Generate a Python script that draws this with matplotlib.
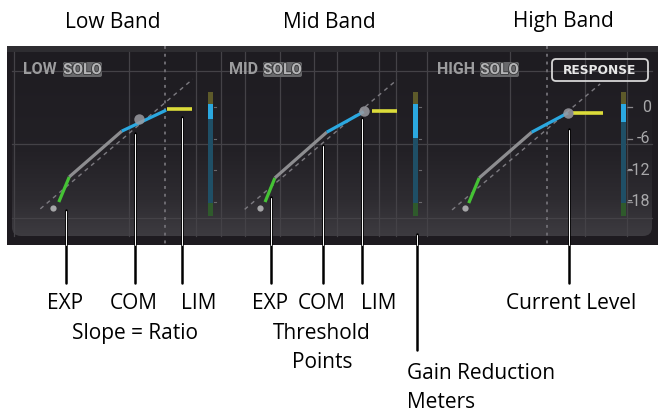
"""
Multiband compressor panel: transfer curves and gain reduction meters
"""
import numpy as np
import matplotlib.pyplot as plt
from matplotlib.patches import Rectangle, FancyBboxPatch
import matplotlib.patheffects as pe

plt.rcParams['font.family'] = ['Open Sans', 'DejaVu Sans']

# transfer curves per band, input dB -> output dB
bands = ["LOW", "MID", "HIGH"]
band_titles = ["Low Band", "Mid Band", "High Band"]
start_in = [-17.3, -17.0, -17.5]
start_out = [-19.2, -19.2, -19.2]
exp_in = [[-16.4, -14.7], [-16.2, -14.6], [-16.9, -15.2]]
exp_out = [[-18.1, -13.3], [-18.1, -13.5], [-18.3, -13.5]]
ratio_in = [[-14.7, -6.2], [-14.6, -6.2], [-15.2, -6.7]]
ratio_out = [[-13.3, -4.6], [-13.5, -4.8], [-13.5, -4.8]]
comp_in = [[-6.2, 1.0], [-6.2, -0.2], [-6.7, -0.8]]
comp_out = [[-4.6, -0.6], [-4.8, -0.9], [-4.8, -1.1]]
lim_in = [[1.1, 5.2], [1.1, 5.2], [0.0, 4.9]]
lim_out = [-0.4, -0.8, -1.1]
level_in = [-3.4, -0.2, -0.8]
level_out = [-2.3, -0.7, -1.1]
unity_range = [[-19.4, 5.3], [-19.5, 5.2], [-19.6, 4.4]]
gain_reduction = [2.3, 5.9, 2.9]
meter_ticks = [0, -6, -12, -18]

# layout in pixels
W, H = 658, 411
SX, SY = 6.17, 5.25          # px per dB
Y0 = 107                     # pixel row of 0 dB
band_x0 = [160, 365, 573]    # pixel column of 0 dB input
PANEL_TOP, PANEL_BOT = 46, 245
METER_X = 8.15

fig = plt.figure(figsize=(W / 100, H / 100), dpi=100)
ax = fig.add_axes([0, 0, 1, 1])
ax.set_xlim(0, W)
ax.set_ylim(H, 0)
ax.axis('off')

# panel background
ax.add_patch(Rectangle((7, PANEL_TOP), W - 7, PANEL_BOT - PANEL_TOP, fc='#1e1b20', ec='none'))
rows = np.linspace(52, 236, 200)
r = np.interp(rows, [52, 150, 200, 236], [0.118, 0.135, 0.18, 0.24])
grad = np.stack([r, r - 0.008, r + 0.012], axis=1)[:, None, :].repeat(2, axis=1)
img = ax.imshow(grad, extent=(12, 652, 236, 52), aspect='auto', interpolation='bilinear', zorder=1)
clip = FancyBboxPatch((12, 36), 640, 200, boxstyle='round,pad=0,rounding_size=9',
                      fc='none', ec='none', transform=ax.transData)
ax.add_patch(clip)
img.set_clip_path(clip)
ax.add_patch(Rectangle((7, PANEL_TOP), W - 7, 6, fc='#2e2d31', ec='none', zorder=2))

# grid
for gy in [71, 144, 218]:
    ax.plot([12, 652], [gy, gy], color='#444247', lw=0.9, zorder=2)
for gx in [14, 129, 196, 221, 245, 280, 314, 337, 379, 396, 427, 510, 585, 627]:
    ax.plot([gx, gx], [52, 236], color='#444247', lw=0.9, zorder=2)
for gx in [165, 547]:
    ax.plot([gx, gx], [PANEL_TOP, PANEL_BOT], color='#6e6c72', lw=1.4,
            ls=(0, (1.5, 2.5)), zorder=2)

# band headers
narrow = ['Roboto', 'DejaVu Sans']
name_x = [23, 229, 437]
solo_x = [63, 263, 480]
for name, nx, sx in zip(bands, name_x, solo_x):
    ax.text(nx, 70, name, family=narrow, weight='bold', fontsize=11.5,
            color='#9c9c9e', ha='left', va='center', zorder=3)
    ax.add_patch(FancyBboxPatch((sx, 62), 39, 15, boxstyle='round,pad=0,rounding_size=2',
                                fc='#68686b', ec='none', zorder=3))
    ax.text(sx + 19.5, 70, "SOLO", family=narrow, weight='bold', fontsize=11,
            color='#b4b4b6', ha='center', va='center', zorder=4,
            path_effects=[pe.withStroke(linewidth=1.2, foreground='#38383a')])
ax.add_patch(FancyBboxPatch((552, 59), 96, 22, boxstyle='round,pad=0,rounding_size=4',
                            fc='none', ec='#d6d6d6', lw=1.3, zorder=3))
ax.text(600, 70.5, "RESPONSE", family='DejaVu Sans', weight='bold', fontsize=8.8,
        color='#e8e8e8', ha='center', va='center', zorder=4)

# transfer curves and meters, one axes per band in dB
for i, x0 in enumerate(band_x0):
    left_px, right_px = x0 - 150, x0 + 85
    b = fig.add_axes([left_px / W, 1 - PANEL_BOT / H, (right_px - left_px) / W,
                      (PANEL_BOT - PANEL_TOP) / H])
    b.set_xlim(-150 / SX, 85 / SX)
    b.set_ylim((Y0 - PANEL_BOT) / SY, (Y0 - PANEL_TOP) / SY)
    b.axis('off')
    b.patch.set_alpha(0)

    b.plot(unity_range[i], unity_range[i], color='#7c7a80', lw=1.0, ls=(0, (3, 3)))
    b.plot(start_in[i], start_out[i], 'o', ms=4.5, color='#a6a6a8', mec='none')
    b.plot(exp_in[i], exp_out[i], color='#45c235', lw=2.3, solid_capstyle='butt')
    b.plot(ratio_in[i], ratio_out[i], color='#8d8d90', lw=2.3, solid_capstyle='butt')
    b.plot(comp_in[i], comp_out[i], color='#2ba8e0', lw=2.3, solid_capstyle='butt')
    b.plot(lim_in[i], [lim_out[i]] * 2, color='#dcdc3a', lw=2.6, solid_capstyle='butt')
    b.plot(level_in[i], level_out[i], 'o', ms=7.5, color='#9a9aa0', alpha=0.85, mec='none')

    # gain reduction meter
    mw = 0.75
    b.bar(METER_X, 2.9 - 0.5, bottom=0.5, width=mw, color='#5d5a2a')
    b.bar(METER_X, 0.5 + gain_reduction[i], bottom=-gain_reduction[i], width=mw, color='#2ba8e0')
    b.bar(METER_X, -gain_reduction[i] + 18.3, bottom=-18.3, width=mw, color='#1f4f66')
    b.bar(METER_X, 20.8 - 18.3, bottom=-20.8, width=mw, color='#2f5a2c')
    for t in meter_ticks:
        b.plot([METER_X + 0.6, METER_X + 0.9], [t, t], color='#6a686c', lw=0.8)

    if i == len(band_x0) - 1:
        for t in meter_ticks:
            b.plot([METER_X + 0.8, METER_X + 1.4], [t, t], color='#8a888c', lw=0.9)
            b.text(12.6, t, f"{t}", family=narrow, fontsize=11.5, color='#a8a8aa',
                   ha='right', va='center')

# callouts and labels on top
top = fig.add_axes([0, 0, 1, 1])
top.set_xlim(0, W)
top.set_ylim(H, 0)
top.axis('off')
top.patch.set_alpha(0)

callouts = [(66, 210, 283), (135, 133, 283), (182, 117, 283),
            (271, 197, 283), (323, 145, 283), (362, 118, 283),
            (417, 234, 350), (569, 129, 283)]
for cx, y1, y2 in callouts:
    top.plot([cx, cx], [y1, y2], color='black', lw=1.8, solid_capstyle='round')
    top.plot([cx, cx], [y1 + 0.8, min(PANEL_BOT, y2)], color='white', lw=0.7,
             solid_capstyle='round')

fs = 15
for t, cx in zip(band_titles, [113, 329, 563]):
    top.text(cx, 22, t, fontsize=fs, ha='center', va='center', color='black')
for t, cx in [("EXP", 65), ("COM", 134), ("LIM", 199), ("EXP", 270), ("COM", 322),
              ("LIM", 379), ("Current Level", 571)]:
    top.text(cx, 303, t, fontsize=fs, ha='center', va='center', color='black')
top.text(135, 333, "Slope = Ratio", fontsize=fs, ha='center', va='center')
top.text(322, 333, "Threshold", fontsize=fs, ha='center', va='center')
top.text(322, 362, "Points", fontsize=fs, ha='center', va='center')
top.text(407, 373, "Gain Reduction", fontsize=fs, ha='left', va='center')
top.text(407, 402, "Meters", fontsize=fs, ha='left', va='center')

fig.savefig("out.png", dpi=100)
